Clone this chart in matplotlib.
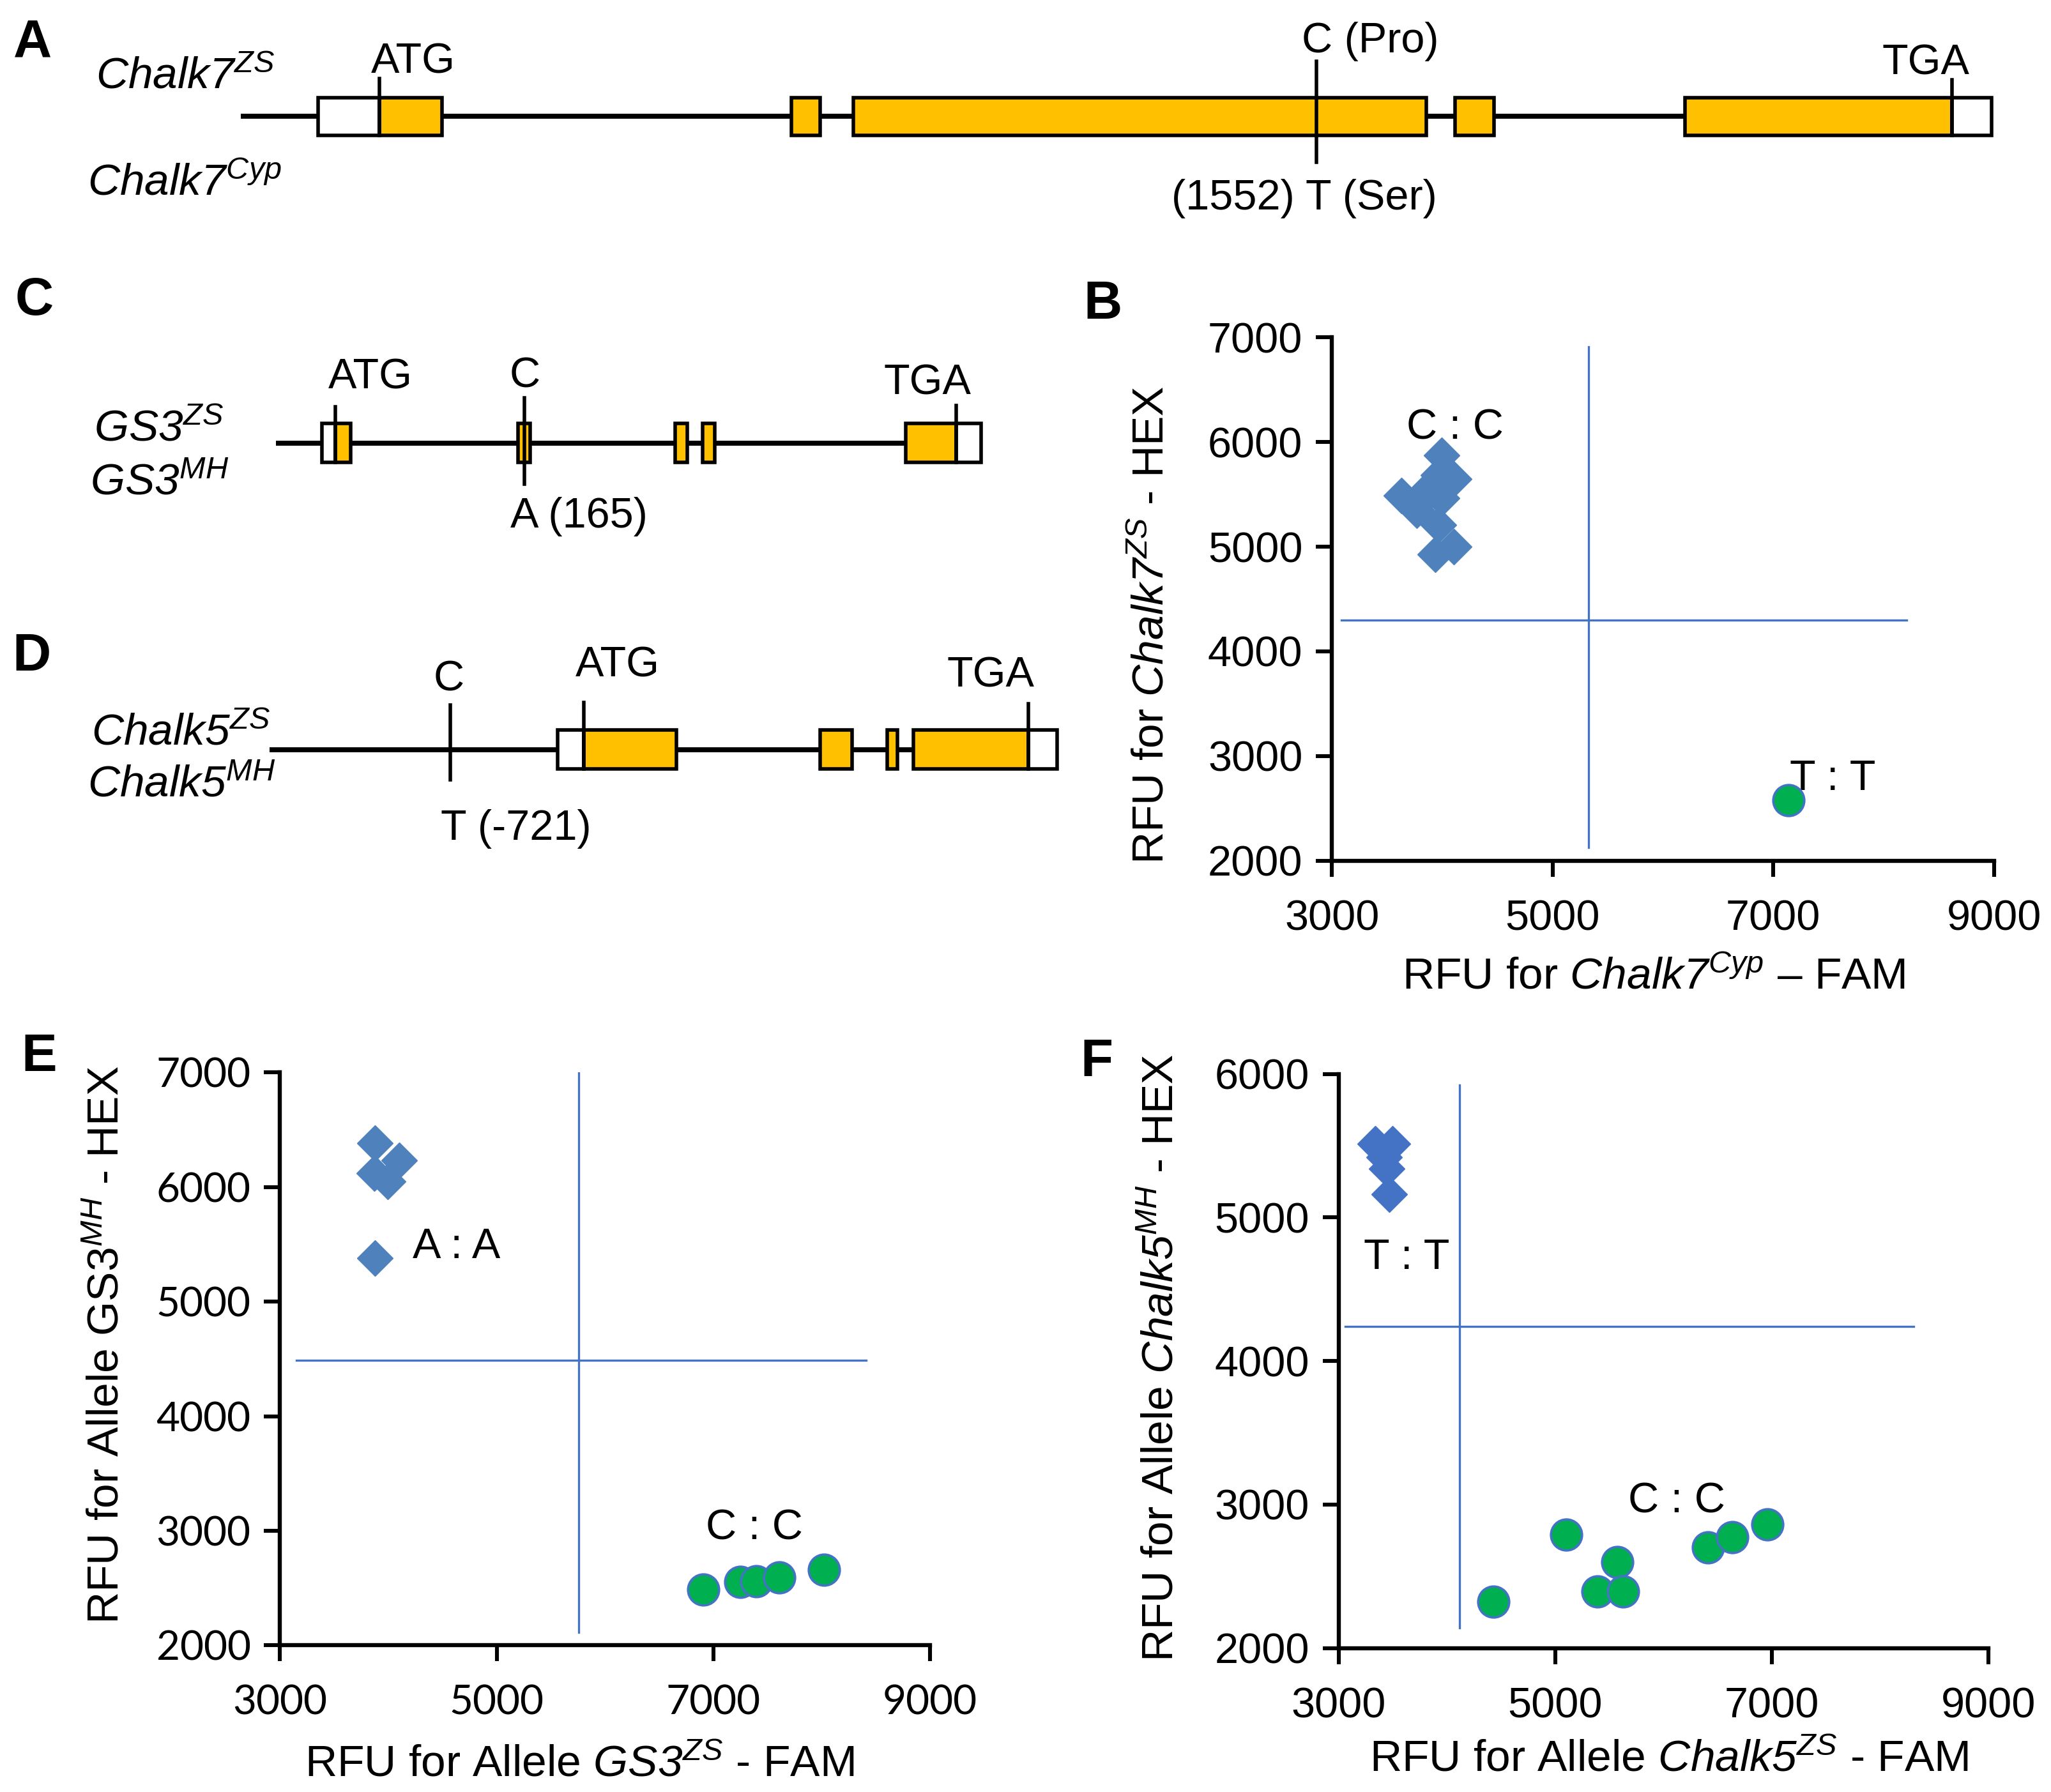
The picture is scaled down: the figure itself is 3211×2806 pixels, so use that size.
import matplotlib
matplotlib.use("Agg")
from matplotlib import pyplot as plt
from matplotlib.patches import Rectangle

plt.rcParams['font.family'] = ['Liberation Sans', 'DejaVu Sans']
plt.rcParams['mathtext.fontset'] = 'custom'
# every math-mode piece (gene names, superscripts) is italic, digits included
plt.rcParams['mathtext.rm'] = 'Liberation Sans:italic'
plt.rcParams['mathtext.it'] = 'Liberation Sans:italic'
plt.rcParams['mathtext.bf'] = 'Liberation Sans:bold'

YELLOW = '#FFC000'
GREEN = '#00B050'
LINEBLUE = '#4472C4'

# ---- gene structures (positions along the drawn gene, arbitrary units) ----
chalk7_span = (184, 1522)
chalk7_exons = [(243, 290, 'utr'), (290, 338, 'cds'), (605, 627, 'cds'),
                (652, 1090, 'cds'), (1112, 1142, 'cds'), (1288, 1492, 'cds'),
                (1492, 1522, 'utr')]
gs3_span = (211, 750)
gs3_exons = [(246, 256.5, 'utr'), (256.5, 268, 'cds'), (396, 405, 'cds'),
             (516, 525.5, 'cds'), (537, 546.5, 'cds'), (692, 731, 'cds'),
             (731, 750, 'utr')]
chalk5_span = (206, 808)
chalk5_exons = [(426, 446, 'utr'), (446, 517, 'cds'), (627, 651, 'cds'),
                (678, 686, 'cds'), (698, 786, 'cds'), (786, 808, 'utr')]

# ---- genotyping data ----
b_cc_x = [3631, 3993, 4105, 3965, 3882, 3798, 3993, 3965, 3937, 4105, 3770]
b_cc_y = [5487, 5873, 5650, 5687, 5568, 5431, 5463, 5207, 4928, 4998, 5347]
b_tt_x = [7135]
b_tt_y = [2577]
b_vline = (5325, 2125, 6910)
b_hline = (4300, 3083, 8208)

e_aa_x = [3877, 4101, 3871, 3992, 3877]
e_aa_y = [6386, 6232, 6123, 6048, 5382]
e_cc_x = [6908, 7247, 7398, 7610, 8021]
e_cc_y = [2487, 2553, 2561, 2592, 2658]
e_vline = (5759, 2114, 7145)
e_hline = (4491, 3151, 8408)

f_tt_x = [3340, 3500, 3420, 3445, 3469]
f_tt_y = [5515, 5515, 5420, 5342, 5160]
f_cc_x = [4431, 5101, 5576, 5393, 5630, 6410, 6636, 6959]
f_cc_y = [2325, 2791, 2599, 2396, 2396, 2701, 2774, 2862]
f_vline = (4115, 2143, 5923)
f_hline = (4243, 3061, 8311)

fig = plt.figure(figsize=(16.06, 14.03), dpi=200)

# overlay for gene diagrams and panel letters
ax0 = fig.add_axes([0, 0, 1, 1])
ax0.set_xlim(0, 1568)
ax0.set_ylim(1370, 0)
ax0.axis('off')


def draw_gene(ax, y, span, exons, half=15):
    ax.plot(span, [y, y], color='black', lw=2.8, solid_capstyle='butt', zorder=1)
    for s, e, kind in exons:
        fc = YELLOW if kind == 'cds' else 'white'
        ax.add_patch(Rectangle((s, y - half), e - s, 2 * half, facecolor=fc,
                               edgecolor='black', lw=2.0, zorder=2))


def mark(ax, x, y0, y1):
    ax.plot([x, x], [y0, y1], color='black', lw=2.0, zorder=3)


GT = 24
# A
draw_gene(ax0, 89, chalk7_span, chalk7_exons, half=14.5)
mark(ax0, 290, 60, 103)
mark(ax0, 1006, 47, 124)
mark(ax0, 1492, 61, 103)
ax0.text(316, 56, 'ATG', fontsize=GT, ha='center', va='baseline')
ax0.text(995, 40, 'C (Pro)', fontsize=GT, ha='left', va='baseline')
ax0.text(1472, 57, 'TGA', fontsize=GT, ha='center', va='baseline')
ax0.text(997, 160, '(1552) T (Ser)', fontsize=GT, ha='center', va='baseline')
ax0.text(73, 67.5, r'$Chalk7^{ZS}$', fontsize=25, va='baseline')
ax0.text(67, 149, r'$Chalk7^{Cyp}$', fontsize=25, va='baseline')

# C
draw_gene(ax0, 338.7, gs3_span, gs3_exons)
mark(ax0, 256.5, 311, 353)
mark(ax0, 401, 304, 370)
mark(ax0, 731, 310, 353)
ax0.text(283, 297, 'ATG', fontsize=GT, ha='center', va='baseline')
ax0.text(401, 296, 'C', fontsize=GT, ha='center', va='baseline')
ax0.text(709, 301.5, 'TGA', fontsize=GT, ha='center', va='baseline')
ax0.text(390, 403.5, 'A (165)', fontsize=GT, ha='left', va='baseline')
ax0.text(72, 337, r'$GS3^{ZS}$', fontsize=25, va='baseline')
ax0.text(69, 378, r'$GS3^{MH}$', fontsize=25, va='baseline')

# D
draw_gene(ax0, 573, chalk5_span, chalk5_exons)
mark(ax0, 344, 539, 596)
mark(ax0, 446, 537, 588)
mark(ax0, 786, 538, 588)
ax0.text(343, 528, 'C', fontsize=GT, ha='center', va='baseline')
ax0.text(472, 517.5, 'ATG', fontsize=GT, ha='center', va='baseline')
ax0.text(757, 525, 'TGA', fontsize=GT, ha='center', va='baseline')
ax0.text(337, 642, 'T (-721)', fontsize=GT, ha='left', va='baseline')
ax0.text(70, 569.5, r'$Chalk5^{ZS}$', fontsize=25, va='baseline')
ax0.text(67, 609, r'$Chalk5^{MH}$', fontsize=25, va='baseline')

# panel letters
for lab, x, y in [('A', 25, 33), ('B', 843, 233), ('C', 26, 230),
                  ('D', 24, 502), ('E', 30, 808), ('F', 838, 812)]:
    ax0.text(x, y, lab, fontsize=30, fontweight='bold', ha='center', va='center')


def scatter_axes(rect, ylim, yticks, tickfont, ticksize):
    ax = fig.add_axes(rect)
    ax.set_xlim(3000, 9000)
    ax.set_ylim(*ylim)
    ax.set_xticks([3000, 5000, 7000, 9000])
    ax.set_yticks(yticks)
    for s in ['top', 'right']:
        ax.spines[s].set_visible(False)
    for s in ['left', 'bottom']:
        ax.spines[s].set_linewidth(2.3)
    ax.tick_params(direction='out', length=9, width=2.2, labelsize=ticksize)
    ax.tick_params(axis='x', pad=13)
    ax.tick_params(axis='y', pad=7.5)
    for t in ax.get_xticklabels() + ax.get_yticklabels():
        t.set_fontfamily(tickfont)
    ax.patch.set_alpha(0)
    return ax


def cross(ax, v, h):
    ax.plot([v[0], v[0]], [v[1], v[2]], color=LINEBLUE, lw=1.2, zorder=1)
    ax.plot([h[1], h[2]], [h[0], h[0]], color=LINEBLUE, lw=1.2, zorder=1)


def diamonds(ax, x, y, color):
    ax.plot(x, y, 'D', ms=14.5, color=color, mec=color, mew=0.5, ls='none',
            zorder=3, clip_on=False)


def circles(ax, x, y):
    ax.plot(x, y, 'o', ms=17.5, mfc=GREEN, mec=LINEBLUE, mew=1.3, ls='none',
            zorder=4, clip_on=False)


# B
axB = scatter_axes([0.6492, 0.5197, 0.3227, 0.292], (2000, 7000),
                   [2000, 3000, 4000, 5000, 6000, 7000], 'Liberation Sans', 24)
cross(axB, b_vline, b_hline)
diamonds(axB, b_cc_x, b_cc_y, '#4F81BD')
circles(axB, b_tt_x, b_tt_y)
axB.text(4116, 6130, 'C : C', fontsize=24, ha='center', va='center', zorder=2)
axB.text(7537, 2777, 'T : T', fontsize=24, ha='center', va='center', zorder=2)
axB.text(-0.272, 0.45, r'RFU for $Chalk7^{ZS}$ - HEX', fontsize=25,
         rotation=90, ha='center', va='center', transform=axB.transAxes)
axB.text(0.486, -0.2225, r'RFU for $Chalk7^{Cyp}$ – FAM', fontsize=25,
         ha='center', va='center', transform=axB.transAxes)

# E
axE = scatter_axes([0.1365, 0.0818, 0.3168, 0.3197], (2000, 7000),
                   [2000, 3000, 4000, 5000, 6000, 7000], 'Lato', 23)
cross(axE, e_vline, e_hline)
diamonds(axE, e_aa_x, e_aa_y, '#4F81BD')
circles(axE, e_cc_x, e_cc_y)
axE.text(4627, 5474, 'A : A', fontsize=24, ha='center', va='center')
axE.text(7380, 3018, 'C : C', fontsize=24, ha='center', va='center')
axE.text(-0.266, 0.525, r'RFU for Allele GS3$^{MH}$ - HEX', fontsize=25,
         rotation=90, ha='center', va='center', transform=axE.transAxes)
axE.text(0.461, -0.208, r'RFU for Allele $GS3^{ZS}$ - FAM', fontsize=25,
         ha='center', va='center', transform=axE.transAxes)

# F
axF = scatter_axes([0.6524, 0.0803, 0.3167, 0.3204], (2000, 6000),
                   [2000, 3000, 4000, 5000, 6000], 'Liberation Sans', 24)
cross(axF, f_vline, f_hline)
diamonds(axF, f_tt_x, f_tt_y, '#4472C4')
circles(axF, f_cc_x, f_cc_y)
axF.text(3627, 4716, 'T : T', fontsize=24, ha='center', va='center')
axF.text(6124, 3018, 'C : C', fontsize=24, ha='center', va='center')
axF.text(-0.272, 0.506, r'RFU for Allele $Chalk5^{MH}$ - HEX', fontsize=25,
         rotation=90, ha='center', va='center', transform=axF.transAxes)
axF.text(0.509, -0.194, r'RFU for Allele $Chalk5^{ZS}$ - FAM', fontsize=25,
         ha='center', va='center', transform=axF.transAxes)

fig.savefig('out.png', dpi=200)
